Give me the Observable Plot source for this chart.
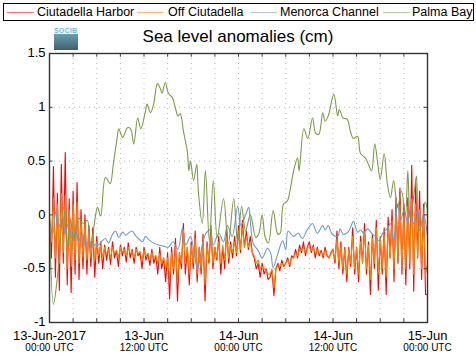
<!DOCTYPE html>
<html><head><meta charset="utf-8">
<script src="https://cdn.jsdelivr.net/npm/d3@7"></script>
<script src="https://cdn.jsdelivr.net/npm/@observablehq/plot@0.6"></script>
<style>
body{margin:0;background:#fff;font-family:"Liberation Sans",Arial,Helvetica,sans-serif;}
#wrap{position:relative;width:476px;height:359px;}
#legend{position:absolute;left:3px;top:3px;width:469px;height:16px;border:1px solid #000;background:#fff;font-size:12.5px;line-height:16px;color:#000;}
.tx{position:absolute;top:0;white-space:nowrap;}
.sw{position:absolute;top:8px;width:27px;height:1px;opacity:0.55;}
#title{position:absolute;left:0;width:476px;top:27px;text-align:center;font-size:17px;}
#logo{position:absolute;left:54px;top:27px;width:24px;height:23px;}
#logo .t{font-size:7px;line-height:7px;color:#5cc3d3;letter-spacing:0.2px;font-weight:bold;}
#logo .b{height:16px;background:linear-gradient(#6a9fae,#3f5f70);}
</style></head>
<body>
<div id="wrap">
  <div id="logo"><div class="t">SOCIB</div><div class="b"></div></div>
  <div id="title">Sea level anomalies (cm)</div>
  <div id="legend"></div>
</div>
<script>
const seriesNames = ["Ciutadella Harbor","Off Ciutadella","Menorca Channel","Palma Bay"];
const seriesColors = ["#ff0000","#ff8000","#6f9bc9","#7f9a4a"];
const legendSwatchLeft = [3, 133, 246, 379];
const legendTextLeft = [33, 164, 276, 408];

const xTickHours = [0,12,24,36,48];
const xTickLine1 = ["13-Jun-2017","13-Jun","14-Jun","14-Jun","15-Jun"];
const xTickLine2 = ["00:00 UTC","12:00 UTC","00:00 UTC","12:00 UTC","00:00 UTC"];
const xGridHours = [3,6,9,12,15,18,21,24,27,30,33,36,39,42,45];
const xMinorTicks = [0,3,6,9,12,15,18,21,24,27,30,33,36,39,42,45,48];
const yTicks = [-1,-0.5,0,0.5,1,1.5];
const yTickLabels = ["-1","-0.5","0","0.5","1","1.5"];
const yGrid = [-0.5,0,0.5,1];

// Ciutadella Harbor, sampled every 15 min from 13-Jun 00:00 (hours)
const harborStep = 0.25;
const harborVals = [
-0.05,-0.40,0.45,-0.58, 0.20,-0.70,0.47,-0.45, 0.58,-0.65,0.15,-0.72, 0.22,-0.55,0.30,-0.60,
0.05,-0.50,0.00,-0.55, -0.10,-0.48,-0.12,-0.58, -0.20,-0.45,-0.25,-0.50, -0.28,-0.42,-0.30,-0.46,
-0.25,-0.40,-0.33,-0.48, -0.28,-0.38,-0.30,-0.44, -0.26,-0.40,-0.32,-0.45, -0.30,-0.38,-0.35,-0.50,
-0.30,-0.42,-0.36,-0.47, -0.32,-0.45,-0.38,-0.55, -0.30,-0.50,-0.40,-0.62, -0.35,-0.78,-0.30,-0.55,
-0.22,-0.80,-0.35,-0.50, -0.08,-0.55,-0.30,-0.65, -0.25,-0.50,-0.15,-0.62, -0.30,-0.55,-0.18,-0.80,
-0.25,-0.45,-0.10,-0.50, -0.30,-0.42,-0.20,-0.55, -0.30,-0.50,-0.12,-0.45, -0.25,-0.40,-0.20,-0.38,
-0.10,-0.35,-0.05,-0.30, -0.15,-0.32,-0.20,-0.35, -0.40,-0.50,-0.45,-0.58, -0.45,-0.55,-0.50,-0.60,
-0.58,-0.52,-0.75,-0.50, -0.45,-0.52,-0.42,-0.48, -0.45,-0.40,-0.48,-0.38, -0.40,-0.32,-0.40,-0.28,
-0.35,-0.25,-0.38,-0.30, -0.25,-0.35,-0.28,-0.40, -0.30,-0.38,-0.33,-0.40, -0.30,-0.38,-0.40,-0.35,
-0.32,-0.45,-0.15,-0.50, -0.25,-0.55,-0.30,-0.62, -0.30,-0.48,-0.12,-0.55, -0.30,-0.62,-0.20,-0.45,
-0.08,-0.55,-0.25,-0.74, -0.18,-0.50,-0.05,-0.70, -0.20,-0.55,-0.12,-0.74, -0.02,-0.40,0.05,-0.62,
0.16,-0.45,0.25,-0.55, 0.10,-0.65,0.16,-0.50, 0.46,-0.71,0.30,-0.40, 0.22,-0.60,0.10,-0.74,
-0.74];

// Off Ciutadella, every 15 min
const offStep = 0.25;
const offVals = [
0.00,-0.25,0.15,-0.40, 0.10,-0.45,0.20,-0.35, 0.18,-0.50,0.05,-0.48, 0.10,-0.42,0.12,-0.45,
-0.05,-0.40,-0.08,-0.42, -0.15,-0.40,-0.18,-0.42, -0.25,-0.38,-0.28,-0.40, -0.30,-0.37,-0.32,-0.40,
-0.30,-0.36,-0.33,-0.40, -0.30,-0.35,-0.32,-0.38, -0.30,-0.36,-0.34,-0.40, -0.32,-0.36,-0.34,-0.42,
-0.33,-0.38,-0.36,-0.42, -0.35,-0.40,-0.38,-0.45, -0.36,-0.45,-0.40,-0.50, -0.40,-0.60,-0.35,-0.50,
-0.30,-0.62,-0.35,-0.45, -0.15,-0.45,-0.30,-0.55, -0.28,-0.45,-0.22,-0.55, -0.30,-0.50,-0.25,-0.65,
-0.28,-0.42,-0.18,-0.45, -0.30,-0.40,-0.25,-0.45, -0.28,-0.42,-0.20,-0.40, -0.28,-0.35,-0.25,-0.35,
-0.15,-0.32,-0.12,-0.30, -0.20,-0.30,-0.25,-0.35, -0.38,-0.45,-0.42,-0.50, -0.48,-0.50,-0.52,-0.55,
-0.55,-0.50,-0.68,-0.50, -0.47,-0.48,-0.45,-0.47, -0.45,-0.42,-0.46,-0.40, -0.40,-0.35,-0.38,-0.32,
-0.33,-0.30,-0.35,-0.30, -0.30,-0.33,-0.30,-0.36, -0.32,-0.36,-0.35,-0.38, -0.33,-0.37,-0.40,-0.36,
-0.33,-0.42,-0.22,-0.45, -0.28,-0.50,-0.32,-0.55, -0.32,-0.45,-0.20,-0.50, -0.30,-0.55,-0.25,-0.45,
-0.15,-0.50,-0.28,-0.60, -0.22,-0.45,-0.12,-0.55, -0.22,-0.50,-0.18,-0.58, -0.10,-0.40,-0.05,-0.50,
0.05,-0.40,0.10,-0.48, 0.00,-0.50,0.08,-0.45, 0.15,-0.55,0.10,-0.40, 0.05,-0.50,0.00,-0.55,
-0.45];

// Menorca Channel (hour, value)
const channelH = [0,0.4,0.8,1.1,1.7,2.0,2.4,2.9,3.3,3.7,4.2,4.6,5.0,5.5,5.8,6.2,6.7,7.1,7.5,8.0,8.4,8.8,9.3,9.7,10.0,10.5,10.9,11.3,11.8,12.2,12.6,13.2,13.8,14.5,15.1,15.7,16.3,16.9,17.3,17.9,18.3,18.8,19.4,19.8,20.4,20.8,21.5,22.1,22.6,23.2,23.9,24.3,24.9,25.3,25.5,25.9,26.5,27.0,27.7,28.1,28.4,29.0,29.6,30.0,30.3,31.0,31.6,32.1,32.8,33.4,34.0,34.7,35.0,35.4,35.9,36.6,36.9,37.3,38.0,38.6,39.1,39.5,39.9,40.4,41.0,41.4,41.8,42.4,42.9,43.3,43.7,44.2,44.6,45.0,45.5,45.8,46.2,46.7,47.1,47.5,48];
const channelV = [-0.06,-0.18,0.04,-0.12,-0.03,-0.18,-0.08,-0.22,-0.15,-0.24,-0.18,-0.29,-0.24,-0.30,-0.27,-0.28,-0.24,-0.22,-0.26,-0.18,-0.15,-0.21,-0.16,-0.19,-0.17,-0.15,-0.19,-0.22,-0.25,-0.20,-0.23,-0.26,-0.28,-0.29,-0.30,-0.25,-0.32,-0.12,-0.28,-0.20,-0.32,-0.50,-0.28,-0.18,-0.14,-0.28,-0.17,-0.25,-0.10,-0.20,0.08,-0.10,0.00,0.07,-0.06,-0.27,-0.33,-0.40,-0.31,-0.36,-0.49,-0.36,-0.24,-0.32,-0.15,-0.20,-0.17,-0.22,-0.13,-0.08,-0.17,-0.10,-0.14,-0.10,-0.18,-0.20,-0.13,-0.18,-0.15,-0.06,-0.16,-0.14,-0.17,-0.13,-0.18,-0.20,-0.24,-0.16,-0.13,-0.08,-0.24,0.10,-0.05,0.04,-0.07,0.05,-0.08,0.04,-0.10,0.00,-0.20];

// Palma Bay (hour, value)
const palmaH = [0,0.5,1.0,1.4,1.8,2.3,2.7,3.0,3.7,4.3,4.8,5.2,5.6,6.1,6.5,7.1,7.7,8.1,8.6,8.8,9.3,9.9,10.3,10.7,11.2,11.6,12.2,12.4,12.8,13.2,13.7,14.1,14.3,14.7,15.1,15.6,16.0,16.3,16.6,17.0,17.5,17.7,17.9,18.3,18.7,18.9,19.4,19.8,20.3,20.8,21.3,22.1,22.7,23.4,23.9,24.4,24.9,25.5,26.2,26.6,27.0,27.4,27.8,28.4,29.0,29.3,29.7,30.2,30.6,31.0,31.5,31.7,32.3,32.8,33.4,33.8,34.2,34.7,35.0,35.4,36.1,36.6,36.8,37.3,37.8,38.2,38.6,39.1,39.5,40.1,40.5,40.9,41.3,41.7,42.0,42.5,42.9,43.3,43.7,44.2,44.7,45.2,45.5,45.8,46.3,46.6,46.9,47.4,47.7,48];
const palmaV = [0.00,-0.83,-0.58,-0.21,0.07,-0.30,-0.03,-0.25,-0.03,-0.08,-0.05,-0.30,-0.13,0.07,-0.01,0.35,0.29,0.47,0.72,0.80,0.72,0.81,0.80,0.66,0.90,0.80,0.97,1.03,0.95,1.02,1.22,1.17,1.13,1.23,1.13,1.09,0.99,0.92,0.94,0.78,0.59,0.41,0.50,0.32,0.47,0.22,-0.08,0.41,-0.24,0.32,-0.21,0.15,-0.27,0.15,-0.27,0.08,-0.15,0.00,-0.21,-0.17,0.00,-0.21,-0.26,0.04,-0.18,-0.17,0.10,0.13,0.25,0.41,0.53,0.41,0.80,0.71,0.90,0.76,0.75,0.95,0.87,0.92,1.12,0.92,0.98,0.90,0.89,0.78,0.71,0.73,0.57,0.53,0.47,0.41,0.66,0.47,0.33,0.57,0.29,0.16,0.32,0.07,0.22,0.00,0.41,-0.03,0.20,0.36,-0.15,-0.05,0.12,0.05];

const harbor = harborVals.map((v,i)=>({h:i*harborStep, v}));
const off = offVals.map((v,i)=>({h:i*offStep, v}));
const channel = channelH.map((h,i)=>({h, v:channelV[i]}));
const palma = palmaH.map((h,i)=>({h, v:palmaV[i]}));

const font = '"Liberation Sans",Arial,Helvetica,sans-serif';
const chart = Plot.plot({
  width: 476, height: 359,
  marginLeft: 49, marginRight: 49, marginTop: 53, marginBottom: 37,
  x: {domain: [0,48], axis: null},
  y: {domain: [-1,1.5], axis: null},
  style: {fontFamily: font, background: "transparent", color: "#000"},
  marks: [
    Plot.ruleX(xGridHours, {x: d=>d, stroke: "#bbb", strokeDasharray: "1,4", strokeWidth: 1}),
    Plot.ruleY(yGrid, {y: d=>d, stroke: "#bbb", strokeDasharray: "1,4", strokeWidth: 1}),
    Plot.line(harbor, {x: "h", y: "v", stroke: seriesColors[0], strokeWidth: 1.1}),
    Plot.line(off, {x: "h", y: "v", stroke: seriesColors[1], strokeWidth: 1.1}),
    Plot.line(channel, {x: "h", y: "v", stroke: seriesColors[2], strokeWidth: 1.1, curve: "catmull-rom"}),
    Plot.line(palma, {x: "h", y: "v", stroke: seriesColors[3], strokeWidth: 1.1, curve: "catmull-rom"}),
    // inward ticks
    Plot.ruleX(xMinorTicks, {x: d=>d, y1: -1, y2: -0.965, stroke: "#444"}),
    Plot.ruleX(xMinorTicks, {x: d=>d, y1: 1.5, y2: 1.465, stroke: "#444"}),
    Plot.ruleY(yTicks, {y: d=>d, x1: 0, x2: 0.45, stroke: "#444"}),
    Plot.ruleY(yTicks, {y: d=>d, x1: 48, x2: 47.55, stroke: "#444"}),
    Plot.frame({stroke: "#333", strokeWidth: 1.4}),
    Plot.text(yTicks, {y: d=>d, frameAnchor: "left", dx: -4, dy: -0.5, textAnchor: "end", text: (d,i)=>yTickLabels[i], fontSize: 13}),
    Plot.text(xTickHours, {x: d=>d, frameAnchor: "bottom", dy: 13, text: (d,i)=>xTickLine1[i], fontSize: 13, lineAnchor: "middle"}),
    Plot.text(xTickHours, {x: d=>d, frameAnchor: "bottom", dy: 25, text: (d,i)=>xTickLine2[i], fontSize: 10, lineAnchor: "middle"})
  ]
});
const wrap = document.getElementById("wrap");
chart.style.position = "absolute"; chart.style.left = "0"; chart.style.top = "0";
wrap.insertBefore(chart, wrap.firstChild);

const legend = document.getElementById("legend");
seriesNames.forEach((n,i)=>{
  const s = document.createElement("div");
  s.className = "sw";
  s.style.left = legendSwatchLeft[i] + "px";
  s.style.background = seriesColors[i];
  legend.appendChild(s);
  const t = document.createElement("div");
  t.className = "tx";
  t.style.left = legendTextLeft[i] + "px";
  t.textContent = n;
  legend.appendChild(t);
});
</script>
</body></html>
